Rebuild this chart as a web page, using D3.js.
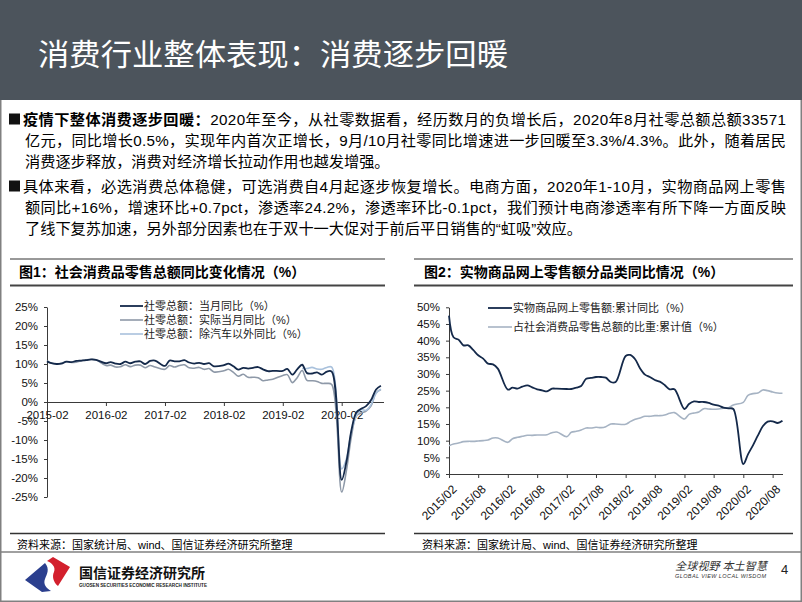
<!DOCTYPE html>
<html><head><meta charset="utf-8">
<script src="https://cdn.jsdelivr.net/npm/d3@7"></script>
<style>body{margin:0;background:#fff}svg{display:block}</style>
</head><body><svg id="c" width="802" height="602"></svg>
<script>
// ---------- DATA ----------
const months = [
 "2015-02","2015-03","2015-04","2015-05","2015-06","2015-07","2015-08","2015-09","2015-10","2015-11","2015-12",
 "2016-02","2016-03","2016-04","2016-05","2016-06","2016-07","2016-08","2016-09","2016-10","2016-11","2016-12",
 "2017-02","2017-03","2017-04","2017-05","2017-06","2017-07","2017-08","2017-09","2017-10","2017-11","2017-12",
 "2018-02","2018-03","2018-04","2018-05","2018-06","2018-07","2018-08","2018-09","2018-10","2018-11","2018-12",
 "2019-02","2019-03","2019-04","2019-05","2019-06","2019-07","2019-08","2019-09","2019-10","2019-11","2019-12",
 "2020-02","2020-03","2020-04","2020-05","2020-06","2020-07","2020-08","2020-09","2020-10"];
// Fig 1
const retailNominal = [
 10.7,10.2,10.0,10.1,10.6,10.5,10.8,10.9,11.0,11.2,11.1,
 10.2,10.5,10.1,10.0,10.6,10.2,10.6,10.7,10.0,10.8,10.9,
 9.5,10.9,10.7,10.7,11.0,10.4,10.1,10.3,10.0,10.2,9.4,
 9.7,10.1,9.4,8.5,9.0,8.8,9.0,9.2,8.6,8.1,8.2,
 8.2,8.7,7.2,8.6,9.8,7.6,7.5,7.8,7.2,8.0,8.0,
 -20.5,-15.8,-7.5,-2.8,-1.8,-1.1,0.5,3.3,4.3];
const retailReal = [
 10.9,10.2,10.0,10.2,10.6,10.4,10.5,10.8,11.1,11.2,11.1,
 9.6,9.7,9.2,9.3,9.8,9.3,9.7,9.7,9.0,9.6,9.2,
 8.6,9.6,9.2,9.6,9.8,9.0,8.9,9.1,8.6,8.8,7.9,
 8.2,8.6,7.8,6.8,7.3,6.5,6.5,6.4,5.6,5.8,6.0,
 7.0,7.2,5.1,6.4,8.3,5.7,5.6,5.4,4.9,4.9,4.6,
 -23.7,-18.1,-9.1,-3.7,-2.9,-2.4,-1.0,2.4,3.3];
const exAutoMonths = ["2019-06","2019-07","2019-08","2019-09","2019-10","2019-11","2019-12",
 "2020-02","2020-03","2020-04","2020-05","2020-06","2020-07","2020-08","2020-09","2020-10"];
const retailExAuto = [8.8,8.8,9.1,8.7,8.6,9.1,9.2,-17.6,-15.0,-7.8,-3.8,-2.0,-2.2,-0.7,2.3,3.4];
const fig1Ticks = ["2015-02","2016-02","2017-02","2018-02","2019-02","2020-02"];
const fig1YTicks = [-25,-20,-15,-10,-5,0,5,10,15,20,25];
const fig1Legend = ["社零总额：当月同比（%）","社零总额：实际当月同比（%）","社零总额：除汽车以外同比（%）"];
// Fig 2
const onlineGrowth = [
 47.5,41.0,40.3,38.6,38.6,37.2,35.6,34.6,33.1,32.9,31.6,
 25.3,25.9,25.6,26.2,26.6,26.0,25.4,25.1,24.8,25.6,25.6,
 25.5,25.5,25.9,26.4,28.6,28.8,29.1,29.1,28.9,27.6,27.6,
 35.4,35.7,34.4,31.7,29.8,29.1,28.2,27.7,26.7,25.4,25.4,
 19.5,21.0,21.8,21.6,21.6,21.3,20.8,20.5,19.9,19.7,19.5,
 3.0,5.9,8.6,11.5,14.3,15.7,15.8,15.3,16.0];
const onlineShare = [
 8.5,9.0,9.3,9.7,9.8,9.8,9.9,10.0,10.2,10.8,10.8,
 9.5,10.6,11.0,11.3,11.6,11.6,11.7,11.7,11.8,12.4,12.6,
 11.2,12.5,12.8,13.2,13.8,13.8,14.0,13.9,14.2,15.0,15.0,
 14.9,15.7,16.4,16.8,17.3,17.3,17.5,17.5,17.7,18.2,18.4,
 16.5,17.9,18.3,18.6,19.6,19.5,19.4,19.5,19.7,19.9,20.7,
 21.5,23.6,24.1,24.3,25.2,25.0,24.6,24.3,24.2];
const fig2Ticks = ["2015-02","2015-08","2016-02","2016-08","2017-02","2017-08","2018-02","2018-08","2019-02","2019-08","2020-02","2020-08"];
const fig2YTicks = [0,5,10,15,20,25,30,35,40,45,50];
const fig2Legend = ["实物商品网上零售额:累计同比（%）","占社会消费品零售总额的比重:累计值（%）"];

// ---------- DRAW ----------
const svg = d3.select("#c");
const FONT = "'Liberation Sans', Arial, 'Noto Sans CJK SC', sans-serif";
const CJK = "'Liberation Sans', 'Noto Sans CJK SC', sans-serif";
const parse = d3.timeParse("%Y-%m");
const C_DARK = "#14294a", C_GRAY = "#8e99a8", C_LIGHT = "#a9c1dc", C_SHARE = "#a6b3c3";

// frame
svg.append("rect").attr("x",0.75).attr("y",0.75).attr("width",800.5).attr("height",600.5)
  .attr("fill","#fff").attr("stroke","#808080").attr("stroke-width",1.5);
// title bar
svg.append("rect").attr("x",0).attr("y",0).attr("width",802).attr("height",100).attr("fill","#4c545c");
svg.append("text").attr("x",38).attr("y",52).attr("dominant-baseline","central")
  .attr("font-family","'Noto Sans CJK SC', sans-serif").attr("font-size",30).attr("fill","#fff")
  .attr("textLength",470).attr("lengthAdjust","spacingAndGlyphs")
  .text("消费行业整体表现：消费逐步回暖");

// body text
function line(x, y, parts, len){
  const t = svg.append("text").attr("x",x).attr("y",y).attr("dominant-baseline","central")
    .attr("font-family",CJK).attr("font-size",15.2).attr("fill","#000");
  parts.forEach(p => t.append("tspan").attr("font-weight", p[1] ? "bold" : "normal").text(p[0]));
  if (len) t.attr("textLength",len).attr("lengthAdjust","spacing");
}
function bullet(y){
  svg.append("rect").attr("x",9).attr("y",y-5.5).attr("width",11).attr("height",11).attr("fill","#111");
}
bullet(119);
line(23,119,[["疫情下整体消费逐步回暖：",true],["2020年至今，从社零数据看，经历数月的负增长后，2020年8月社零总额总额33571",false]],763);
line(25,140,[["亿元，同比增长0.5%，实现年内首次正增长，9月/10月社零同比增速进一步回暖至3.3%/4.3%。此外，随着居民",false]],761);
line(25,161,[["消费逐步释放，消费对经济增长拉动作用也越发增强。",false]]);
bullet(186);
line(23,186,[["具体来看，必选消费总体稳健，可选消费自4月起逐步恢复增长。电商方面，2020年1-10月，实物商品网上零售",false]],763);
line(25,207,[["额同比+16%，增速环比+0.7pct，渗透率24.2%，渗透率环比-0.1pct，我们预计电商渗透率有所下降一方面反映",false]],761);
line(25,228,[["了线下复苏加速，另外部分因素也在于双十一大促对于前后平日销售的“虹吸”效应。",false]]);

// chart headers / source
function panel(x0, x1, tx, title){
  svg.append("line").attr("x1",x0).attr("x2",x1).attr("y1",259).attr("y2",259).attr("stroke","#333").attr("stroke-width",1);
  svg.append("line").attr("x1",x0).attr("x2",x1).attr("y1",285.5).attr("y2",285.5).attr("stroke","#444").attr("stroke-width",2);
  svg.append("text").attr("x",tx).attr("y",272).attr("dominant-baseline","central")
    .attr("font-family",CJK).attr("font-size",14).attr("font-weight","bold").attr("fill","#000").text(title);
  svg.append("line").attr("x1",x0).attr("x2",x1).attr("y1",533.5).attr("y2",533.5).attr("stroke","#333").attr("stroke-width",1.5);
  svg.append("text").attr("x",tx-2).attr("y",545).attr("dominant-baseline","central")
    .attr("font-family",CJK).attr("font-size",11).attr("fill","#000").text("资料来源：国家统计局、wind、国信证券经济研究所整理");
}
panel(10,385,19,"图1：社会消费品零售总额同比变化情况（%）");
panel(414,793,424,"图2：实物商品网上零售额分品类同比情况（%）");

function styleAxis(g, fs){
  g.selectAll("path,line").attr("stroke","#3a3a3a").attr("stroke-width",1);
  g.selectAll("text").attr("font-family",FONT).attr("font-size",fs||11).attr("fill","#111");
}

// ----- Fig 1 -----
const x1 = d3.scaleTime().domain([parse("2015-02"),parse("2020-02")]).range([47,341.7]);
const y1 = d3.scaleLinear().domain([-25,25]).range([497,307]);
const gy1 = svg.append("g").attr("transform","translate(47,0)")
  .call(d3.axisLeft(y1).tickValues(fig1YTicks).tickFormat(d=>d+"%").tickSize(3).tickPadding(6).tickSizeOuter(0));
styleAxis(gy1, 11.5);
const gx1 = svg.append("g").attr("transform",`translate(0,${y1(0)})`)
  .call(d3.axisBottom(x1).tickValues(fig1Ticks.map(parse)).tickFormat(d3.timeFormat("%Y-%m")).tickSize(4).tickPadding(5).tickSizeOuter(0));
gx1.select(".domain").attr("d",`M47,0.5H384`);
styleAxis(gx1, 11.5);

const curve = d3.curveCatmullRom.alpha(0.5);
const ln1 = d3.line().x(d=>x1(d[0])).y(d=>y1(d[1])).curve(curve);
const zip = (ms, vs) => ms.map((m,i)=>[parse(m), vs[i]]);
svg.append("path").attr("d",ln1(zip(months,retailReal))).attr("fill","none").attr("stroke",C_GRAY).attr("stroke-width",1.6);
svg.append("path").attr("d",ln1(zip(exAutoMonths,retailExAuto))).attr("fill","none").attr("stroke",C_LIGHT).attr("stroke-width",1.6);
svg.append("path").attr("d",ln1(zip(months,retailNominal))).attr("fill","none").attr("stroke",C_DARK).attr("stroke-width",1.8);

const leg1Colors = [C_DARK, C_GRAY, C_LIGHT];
const leg1Y = [306, 320, 334];
fig1Legend.forEach((t,i)=>{
  svg.append("line").attr("x1",120).attr("x2",143).attr("y1",leg1Y[i]).attr("y2",leg1Y[i])
    .attr("stroke",leg1Colors[i]).attr("stroke-width",i===0?1.8:1.6);
  svg.append("text").attr("x",144).attr("y",leg1Y[i]).attr("dominant-baseline","central")
    .attr("font-family",CJK).attr("font-size",11).attr("fill","#222").text(t);
});

// ----- Fig 2 -----
const x2 = d3.scaleTime().domain([parse("2015-02"),parse("2020-02")]).range([449,743.3]);
const y2 = d3.scaleLinear().domain([0,50]).range([474,307.3]);
const gy2 = svg.append("g").attr("transform","translate(449,0)")
  .call(d3.axisLeft(y2).tickValues(fig2YTicks).tickFormat(d=>d+"%").tickSize(3).tickPadding(6).tickSizeOuter(0));
styleAxis(gy2, 11.5);
const gx2 = svg.append("g").attr("transform",`translate(0,${y2(0)})`)
  .call(d3.axisBottom(x2).tickValues(fig2Ticks.map(parse)).tickFormat(d3.timeFormat("%Y/%m")).tickSize(4).tickSizeOuter(0));
gx2.select(".domain").attr("d",`M449,0.5H783`);
styleAxis(gx2, 12);
gx2.selectAll("text").attr("text-anchor","end").attr("dy","0.35em")
  .attr("transform","translate(5,13) rotate(-45)").attr("y",0).attr("x",0);

const ln2 = d3.line().x(d=>x2(d[0])).y(d=>y2(d[1])).curve(curve);
svg.append("path").attr("d",ln2(zip(months,onlineShare))).attr("fill","none").attr("stroke",C_SHARE).attr("stroke-width",1.6);
svg.append("path").attr("d",ln2(zip(months,onlineGrowth))).attr("fill","none").attr("stroke",C_DARK).attr("stroke-width",1.8);

const leg2Colors = [C_DARK, C_SHARE];
const leg2Y = [308, 327];
fig2Legend.forEach((t,i)=>{
  svg.append("line").attr("x1",488).attr("x2",512).attr("y1",leg2Y[i]).attr("y2",leg2Y[i])
    .attr("stroke",leg2Colors[i]).attr("stroke-width",i===0?1.8:1.6);
  svg.append("text").attr("x",513).attr("y",leg2Y[i]).attr("dominant-baseline","central")
    .attr("font-family",CJK).attr("font-size",11).attr("fill","#222").text(t);
});

// ----- footer -----
svg.append("line").attr("x1",0).attr("x2",802).attr("y1",552).attr("y2",552).attr("stroke","#808080").attr("stroke-width",1.5);
svg.append("path").attr("d","M25,580 L45,563 C50,569 47,574 45,579 C43,584 46,588 51,591 L42,592 Z").attr("fill","#2b3f8e");
svg.append("path").attr("d","M47,561 L53,557 L70,567 L58,586 C53,582 52,576 54,572 C56,567 52,563 47,561 Z").attr("fill","#d3202d");
svg.append("text").attr("x",79).attr("y",572).attr("dominant-baseline","central")
  .attr("font-family","'Noto Sans CJK SC', sans-serif").attr("font-size",14).attr("font-weight","bold").attr("fill","#111")
  .attr("textLength",126).attr("lengthAdjust","spacingAndGlyphs").text("国信证券经济研究所");
svg.append("text").attr("x",79).attr("y",585).attr("dominant-baseline","central")
  .attr("font-family",FONT).attr("font-size",4.5).attr("font-weight","bold").attr("fill","#222")
  .attr("textLength",128).attr("lengthAdjust","spacingAndGlyphs").text("GUOSEN SECURITIES ECONOMIC RESEARCH INSTITUTE");
svg.append("text").attr("x",675).attr("y",565).attr("dominant-baseline","central")
  .attr("font-family","'Noto Sans CJK SC', sans-serif").attr("font-size",11).attr("font-style","italic").attr("fill","#333")
  .attr("textLength",92).attr("lengthAdjust","spacing").text("全球视野 本土智慧");
svg.append("text").attr("x",675).attr("y",576).attr("dominant-baseline","central")
  .attr("font-family",FONT).attr("font-size",5.5).attr("font-style","italic").attr("fill","#333")
  .attr("textLength",91).attr("lengthAdjust","spacing").text("GLOBAL VIEW      LOCAL WISDOM");
svg.append("text").attr("x",781).attr("y",569).attr("dominant-baseline","central")
  .attr("font-family",FONT).attr("font-size",13).attr("fill","#222").text("4");
</script></body></html>
